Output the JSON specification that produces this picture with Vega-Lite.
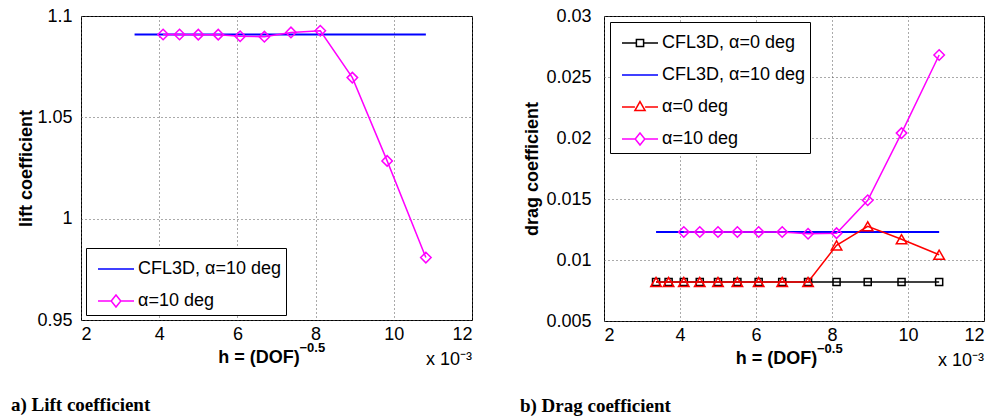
{
  "$schema": "https://vega.github.io/schema/vega-lite/v6.json",
  "padding": {"left": 10, "top": 6, "right": 0, "bottom": 0},
  "background": "white",
  "datasets": {
    "lift": [
      {"series": "CFL3D, α=10 deg", "h": 3.37, "c": 1.0909},
      {"series": "CFL3D, α=10 deg", "h": 10.82, "c": 1.0909},
      {"series": "α=10 deg", "h": 4.10, "c": 1.0909},
      {"series": "α=10 deg", "h": 4.52, "c": 1.0909},
      {"series": "α=10 deg", "h": 5.00, "c": 1.0908},
      {"series": "α=10 deg", "h": 5.51, "c": 1.0908},
      {"series": "α=10 deg", "h": 6.07, "c": 1.0900},
      {"series": "α=10 deg", "h": 6.69, "c": 1.0898},
      {"series": "α=10 deg", "h": 7.37, "c": 1.0919},
      {"series": "α=10 deg", "h": 8.12, "c": 1.0927},
      {"series": "α=10 deg", "h": 8.94, "c": 1.0696},
      {"series": "α=10 deg", "h": 9.83, "c": 1.0285},
      {"series": "α=10 deg", "h": 10.82, "c": 0.9808}
    ],
    "drag": [
      {"series": "CFL3D, α=0 deg", "h": 3.37, "c": 0.0082},
      {"series": "CFL3D, α=0 deg", "h": 3.70, "c": 0.0082},
      {"series": "CFL3D, α=0 deg", "h": 4.10, "c": 0.0082},
      {"series": "CFL3D, α=0 deg", "h": 4.52, "c": 0.0082},
      {"series": "CFL3D, α=0 deg", "h": 5.00, "c": 0.0082},
      {"series": "CFL3D, α=0 deg", "h": 5.51, "c": 0.0082},
      {"series": "CFL3D, α=0 deg", "h": 6.07, "c": 0.0082},
      {"series": "CFL3D, α=0 deg", "h": 6.69, "c": 0.0082},
      {"series": "CFL3D, α=0 deg", "h": 7.37, "c": 0.0082},
      {"series": "CFL3D, α=0 deg", "h": 8.12, "c": 0.0082},
      {"series": "CFL3D, α=0 deg", "h": 8.94, "c": 0.0082},
      {"series": "CFL3D, α=0 deg", "h": 9.83, "c": 0.0082},
      {"series": "CFL3D, α=0 deg", "h": 10.82, "c": 0.0082},
      {"series": "CFL3D, α=10 deg", "h": 3.37, "c": 0.0123},
      {"series": "CFL3D, α=10 deg", "h": 10.82, "c": 0.0123},
      {"series": "α=0 deg", "h": 3.37, "c": 0.0082},
      {"series": "α=0 deg", "h": 3.70, "c": 0.0082},
      {"series": "α=0 deg", "h": 4.10, "c": 0.0082},
      {"series": "α=0 deg", "h": 4.52, "c": 0.0082},
      {"series": "α=0 deg", "h": 5.00, "c": 0.0082},
      {"series": "α=0 deg", "h": 5.51, "c": 0.0082},
      {"series": "α=0 deg", "h": 6.07, "c": 0.0082},
      {"series": "α=0 deg", "h": 6.69, "c": 0.0082},
      {"series": "α=0 deg", "h": 7.37, "c": 0.0082},
      {"series": "α=0 deg", "h": 8.12, "c": 0.0112},
      {"series": "α=0 deg", "h": 8.94, "c": 0.01276},
      {"series": "α=0 deg", "h": 9.83, "c": 0.0117},
      {"series": "α=0 deg", "h": 10.82, "c": 0.01043},
      {"series": "α=10 deg", "h": 4.10, "c": 0.0123},
      {"series": "α=10 deg", "h": 4.52, "c": 0.0123},
      {"series": "α=10 deg", "h": 5.00, "c": 0.0123},
      {"series": "α=10 deg", "h": 5.51, "c": 0.0123},
      {"series": "α=10 deg", "h": 6.07, "c": 0.0123},
      {"series": "α=10 deg", "h": 6.69, "c": 0.0123},
      {"series": "α=10 deg", "h": 7.37, "c": 0.01215},
      {"series": "α=10 deg", "h": 8.12, "c": 0.0122},
      {"series": "α=10 deg", "h": 8.94, "c": 0.0149},
      {"series": "α=10 deg", "h": 9.83, "c": 0.0204},
      {"series": "α=10 deg", "h": 10.82, "c": 0.0268}
    ],
    "note": [{"label": "x 10⁻³"}],
    "sup": [{"label": "−0.5"}]
  },
  "config": {
    "font": "Liberation Sans",
    "view": {"stroke": "black", "strokeWidth": 1},
    "axis": {
      "labelFont": "Liberation Sans", "labelFontSize": 18, "labelColor": "black",
      "titleFont": "Liberation Sans", "titleFontSize": 18, "titleFontWeight": "bold", "titleColor": "black",
      "grid": true, "gridDash": [1, 3], "gridColor": "#555", "gridWidth": 1,
      "domain": false, "ticks": false, "labelPadding": 9
    },
    "legend": {
      "labelFont": "Liberation Sans", "labelFontSize": 18, "labelColor": "black",
      "strokeColor": "black", "fillColor": "white", "padding": 5,
      "symbolSize": 900, "symbolStrokeWidth": 1.5, "symbolOffset": 9, "labelOffset": 6,
      "rowPadding": 7, "labelLimit": 300
    }
  },
  "hconcat": [
    {
      "width": 391, "height": 304,
      "title": {"text": "a) Lift coefficient", "orient": "bottom", "anchor": "start", "font": "Liberation Serif", "fontSize": 19, "fontWeight": "bold", "offset": 27, "dx": -7, "color": "black"},
      "layer": [
        {"data": {"name": "lift"}, "transform": [{"filter": "datum.series === 'CFL3D, α=10 deg'"}], "mark": {"type": "line", "color": "#0000ff", "strokeWidth": 2},
         "encoding": {
          "x": {"field": "h", "type": "quantitative", "scale": {"domain": [2, 12], "nice": false},
                "axis": {"values": [2, 4, 6, 8, 10, 12], "title": "h = (DOF)\u2002\u2002\u2002\u2002\u200b", "titlePadding": 5, "labelPadding": 5}},
          "y": {"field": "c", "type": "quantitative", "scale": {"domain": [0.95, 1.1], "nice": false},
                "axis": {"values": [0.95, 1, 1.05, 1.1], "format": ".2~f", "title": "lift coefficient", "titlePadding": 1}}
         }},
        {"data": {"name": "lift"}, "transform": [{"filter": "datum.series === 'α=10 deg'"}], "mark": {"type": "line", "color": "#ff00ff", "strokeWidth": 1.5},
         "encoding": {"x": {"field": "h", "type": "quantitative"}, "y": {"field": "c", "type": "quantitative"}}},
        {"data": {"name": "lift"}, "transform": [{"filter": "datum.series === 'α=10 deg'"}], "mark": {"type": "point", "shape": "diamond", "filled": false, "color": "#ff00ff", "size": 110, "strokeWidth": 1.5, "opacity": 1},
         "encoding": {"x": {"field": "h", "type": "quantitative"}, "y": {"field": "c", "type": "quantitative"}}},
        {"data": {"name": "lift"}, "transform": [{"filter": "false"}], "mark": {"type": "point", "filled": false, "strokeWidth": 1.5, "opacity": 1},
         "encoding": {
           "x": {"field": "h", "type": "quantitative"}, "y": {"field": "c", "type": "quantitative"},
           "color": {"field": "series", "type": "nominal", "scale": {"domain": ["CFL3D, α=10 deg", "α=10 deg"], "range": ["#0000ff", "#ff00ff"]},
                     "legend": {"title": null, "orient": "bottom-left", "offset": 5}},
           "shape": {"field": "series", "type": "nominal", "scale": {"domain": ["CFL3D, α=10 deg", "α=10 deg"], "range": ["M-1.2,0H1.2", "M-1.2,0H-0.32M0.32,0H1.2M0,-0.4L0.32,0L0,0.4L-0.32,0Z"]},
                     "legend": {"title": null, "orient": "bottom-left", "offset": 5}}
         }},
        {"data": {"name": "note"}, "mark": {"type": "text", "align": "right", "baseline": "middle", "dy": 40, "fontSize": 18, "font": "Liberation Sans", "color": "black"},
         "encoding": {"text": {"field": "label", "type": "nominal"}, "x": {"datum": 12, "type": "quantitative"}, "y": {"datum": 0.95, "type": "quantitative"}}},
        {"data": {"name": "sup"}, "mark": {"type": "text", "align": "left", "baseline": "middle", "dx": 23, "dy": 28, "fontSize": 13, "fontWeight": "bold", "font": "Liberation Sans", "color": "black"},
         "encoding": {"text": {"field": "label", "type": "nominal"}, "x": {"datum": 7, "type": "quantitative"}, "y": {"datum": 0.95, "type": "quantitative"}}}
      ]
    },
    {
      "width": 380, "height": 305,
      "title": {"text": "b) Drag coefficient", "orient": "bottom", "anchor": "start", "font": "Liberation Serif", "fontSize": 19, "fontWeight": "bold", "offset": 27, "dx": -4, "color": "black"},
      "layer": [
        {"data": {"name": "drag"}, "transform": [{"filter": "datum.series === 'CFL3D, α=0 deg'"}], "mark": {"type": "line", "color": "black", "strokeWidth": 1.5},
         "encoding": {
          "x": {"field": "h", "type": "quantitative", "scale": {"domain": [2, 12], "nice": false},
                "axis": {"values": [2, 4, 6, 8, 10, 12], "title": "h = (DOF)\u2002\u2002\u2002\u2002\u200b", "titlePadding": 5, "labelPadding": 5}},
          "y": {"field": "c", "type": "quantitative", "scale": {"domain": [0.005, 0.03], "nice": false},
                "axis": {"values": [0.005, 0.01, 0.015, 0.02, 0.025, 0.03], "format": ".3~f", "title": "drag coefficient", "titlePadding": 4, "labelPadding": 13}}
         }},
        {"data": {"name": "drag"}, "transform": [{"filter": "datum.series === 'CFL3D, α=0 deg'"}], "mark": {"type": "point", "shape": "square", "filled": false, "color": "black", "size": 50, "strokeWidth": 1.5, "opacity": 1},
         "encoding": {"x": {"field": "h", "type": "quantitative"}, "y": {"field": "c", "type": "quantitative"}}},
        {"data": {"name": "drag"}, "transform": [{"filter": "datum.series === 'CFL3D, α=10 deg'"}], "mark": {"type": "line", "color": "#0000ff", "strokeWidth": 2},
         "encoding": {"x": {"field": "h", "type": "quantitative"}, "y": {"field": "c", "type": "quantitative"}}},
        {"data": {"name": "drag"}, "transform": [{"filter": "datum.series === 'α=0 deg'"}], "mark": {"type": "line", "color": "#ff0000", "strokeWidth": 1.5},
         "encoding": {"x": {"field": "h", "type": "quantitative"}, "y": {"field": "c", "type": "quantitative"}}},
        {"data": {"name": "drag"}, "transform": [{"filter": "datum.series === 'α=0 deg'"}], "mark": {"type": "point", "shape": "triangle-up", "filled": false, "color": "#ff0000", "size": 110, "strokeWidth": 1.5, "opacity": 1},
         "encoding": {"x": {"field": "h", "type": "quantitative"}, "y": {"field": "c", "type": "quantitative"}}},
        {"data": {"name": "drag"}, "transform": [{"filter": "datum.series === 'α=10 deg'"}], "mark": {"type": "line", "color": "#ff00ff", "strokeWidth": 1.5},
         "encoding": {"x": {"field": "h", "type": "quantitative"}, "y": {"field": "c", "type": "quantitative"}}},
        {"data": {"name": "drag"}, "transform": [{"filter": "datum.series === 'α=10 deg'"}], "mark": {"type": "point", "shape": "diamond", "filled": false, "color": "#ff00ff", "size": 110, "strokeWidth": 1.5, "opacity": 1},
         "encoding": {"x": {"field": "h", "type": "quantitative"}, "y": {"field": "c", "type": "quantitative"}}},
        {"data": {"name": "drag"}, "transform": [{"filter": "false"}], "mark": {"type": "point", "filled": false, "strokeWidth": 1.5, "opacity": 1},
         "encoding": {
           "x": {"field": "h", "type": "quantitative"}, "y": {"field": "c", "type": "quantitative"},
           "color": {"field": "series", "type": "nominal", "scale": {"domain": ["CFL3D, α=0 deg", "CFL3D, α=10 deg", "α=0 deg", "α=10 deg"], "range": ["black", "#0000ff", "#ff0000", "#ff00ff"]},
                     "legend": {"title": null, "orient": "top-left", "offset": 6}},
           "shape": {"field": "series", "type": "nominal", "scale": {"domain": ["CFL3D, α=0 deg", "CFL3D, α=10 deg", "α=0 deg", "α=10 deg"], "range": ["M-1.2,0H-0.24M0.24,0H1.2M-0.24,-0.24H0.24V0.24H-0.24Z", "M-1.2,0H1.2", "M-1.2,0H-0.34M0.34,0H1.2M0,-0.36L0.34,0.24L-0.34,0.24Z", "M-1.2,0H-0.32M0.32,0H1.2M0,-0.4L0.32,0L0,0.4L-0.32,0Z"]},
                     "legend": {"title": null, "orient": "top-left", "offset": 6}}
         }},
        {"data": {"name": "note"}, "mark": {"type": "text", "align": "right", "baseline": "middle", "dy": 40, "fontSize": 18, "font": "Liberation Sans", "color": "black"},
         "encoding": {"text": {"field": "label", "type": "nominal"}, "x": {"datum": 12, "type": "quantitative"}, "y": {"datum": 0.005, "type": "quantitative"}}},
        {"data": {"name": "sup"}, "mark": {"type": "text", "align": "left", "baseline": "middle", "dx": 23, "dy": 28, "fontSize": 13, "fontWeight": "bold", "font": "Liberation Sans", "color": "black"},
         "encoding": {"text": {"field": "label", "type": "nominal"}, "x": {"datum": 7, "type": "quantitative"}, "y": {"datum": 0.005, "type": "quantitative"}}}
      ]
    }
  ],
  "spacing": 46,
  "resolve": {"scale": {"color": "independent", "shape": "independent", "x": "independent", "y": "independent"}}
}
